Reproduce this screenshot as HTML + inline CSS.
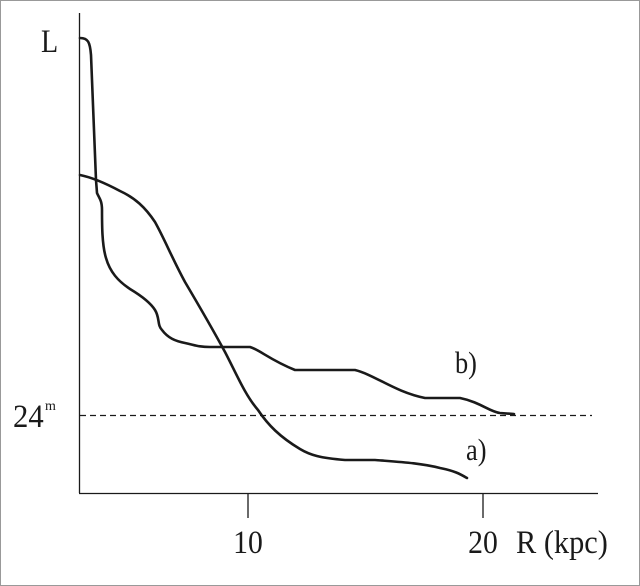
<!DOCTYPE html>
<html><head><meta charset="utf-8"><style>
html,body{margin:0;padding:0;background:#fff}
svg{display:block}
text{font-family:"Liberation Serif",serif;fill:#1a1a1a}
</style></head><body>
<svg width="640" height="586" viewBox="0 0 640 586">
<rect x="0.5" y="0.5" width="639" height="585" fill="#fff" stroke="#999" stroke-width="1"/>
<g stroke="#1a1a1a" stroke-width="1.3" fill="none">
<line x1="79.5" y1="13" x2="79.5" y2="493"/>
<line x1="79" y1="493.5" x2="598" y2="493.5"/>
<line x1="248" y1="493" x2="248" y2="518"/>
<line x1="483" y1="493" x2="483" y2="518"/>
</g>
<line x1="80" y1="415.5" x2="592" y2="415.5" stroke="#1a1a1a" stroke-width="1.2" stroke-dasharray="6,4"/>
<g stroke="#1a1a1a" stroke-width="2.6" fill="none" stroke-linejoin="round" stroke-linecap="round">
<path d="M80,38 C88,38 90,42 91,55 L96,180 L97,193 C99,198 102,200 102,210 C102,225 102,245 106,258 C110,272 118,281 130,289 C140,295 150,302 155,310 C160,318 157,325 162,330 C168,338 175,341 185,343 C195,345 198,347 210,347 L250,347 C260,350 270,360 295,370 L355,370 C375,375 395,392 425,398 L460,398 C480,402 490,412 500,413 L514,414"/>
<path d="M80,175 C90,177 105,183 120,191 C135,198 145,207 155,222 C165,240 172,258 185,282 C198,304 212,328 225,352 C236,373 245,395 258,410 C268,425 280,437 300,449 C310,455 320,458 345,460 L375,460 C400,462 420,463 440,468 C455,471 460,474 467,478"/>
</g>
<text transform="translate(41,52) scale(0.85,1)" font-size="33">L</text>
<text transform="translate(13,427) scale(0.93,1)" font-size="33">24</text>
<text x="45" y="410" font-size="14">m</text>
<text transform="translate(455,373) scale(0.85,1)" font-size="31">b)</text>
<text transform="translate(466,460) scale(0.85,1)" font-size="31">a)</text>
<text transform="translate(248,553) scale(0.9,1)" font-size="33" text-anchor="middle">10</text>
<text transform="translate(483,553) scale(0.9,1)" font-size="33" text-anchor="middle">20</text>
<text transform="translate(516,553) scale(0.92,1)" font-size="33">R (kpc)</text>
</svg>
</body></html>
